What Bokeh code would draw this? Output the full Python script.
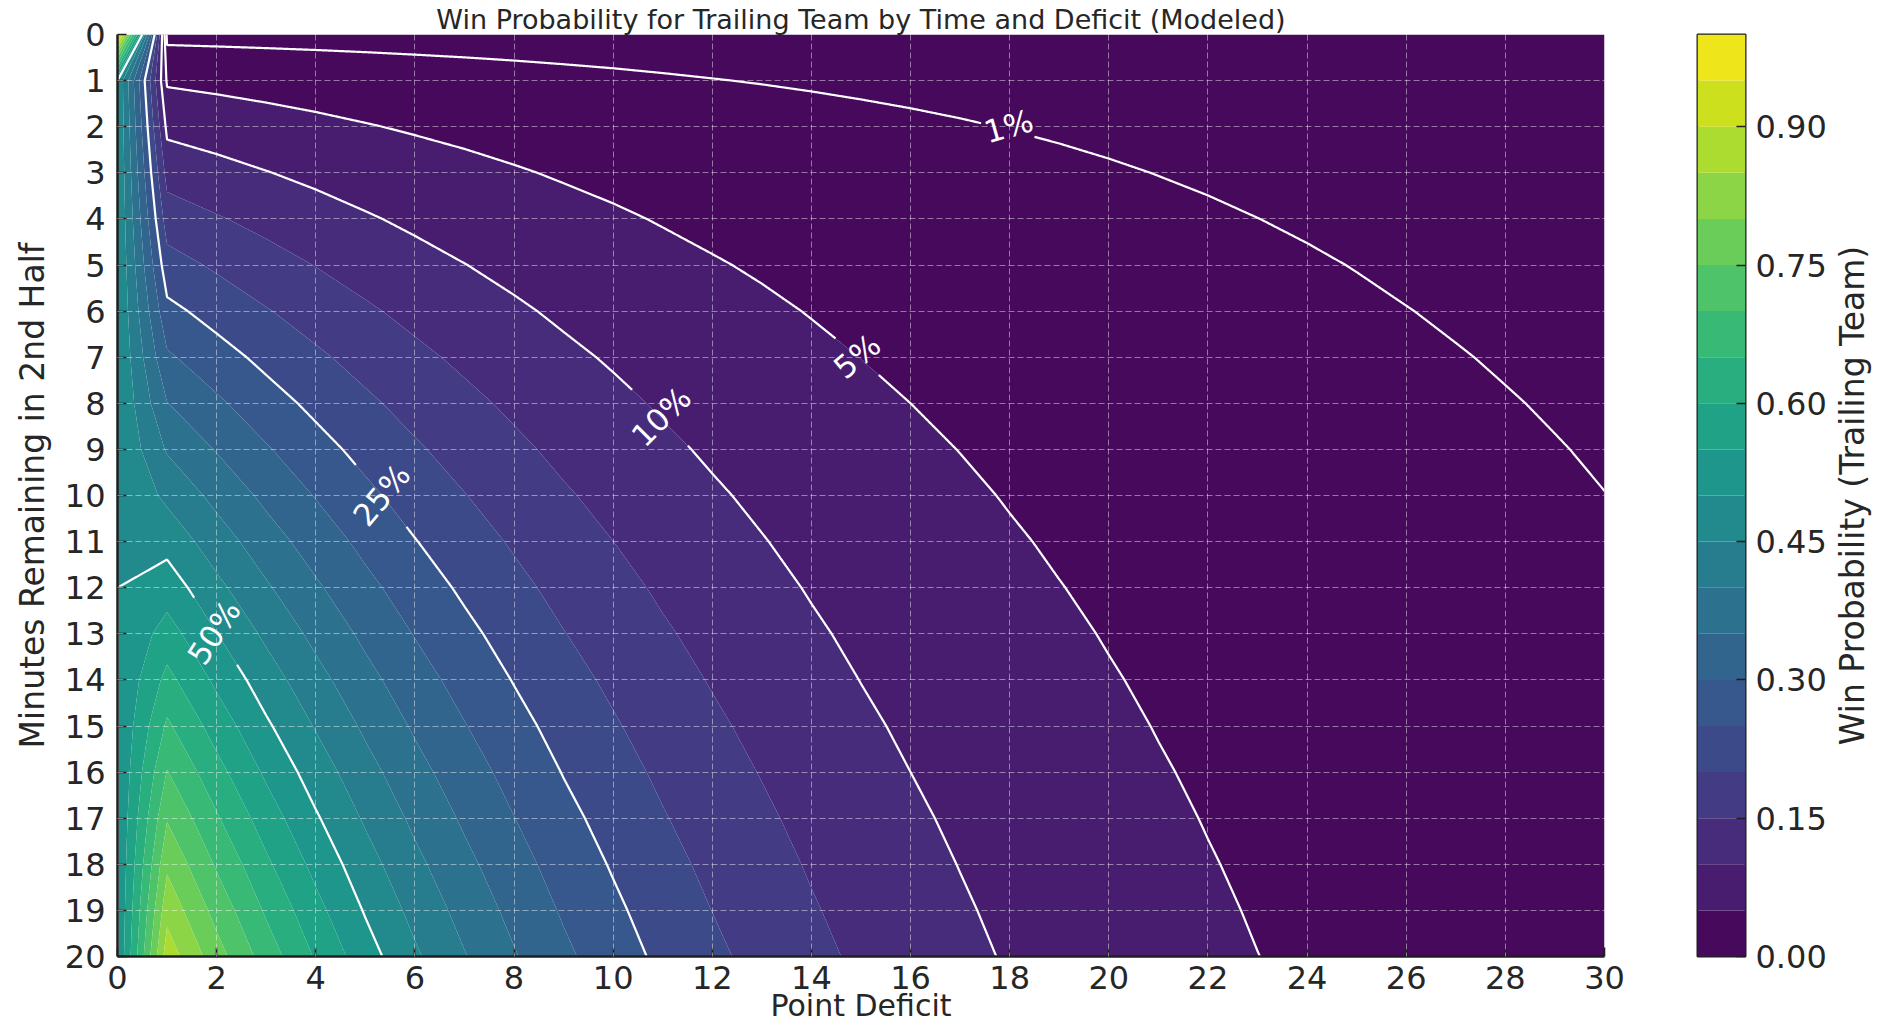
import numpy as np
from contourpy import contour_generator
from bokeh.plotting import figure
from bokeh.layouts import row
from bokeh.models import Range1d, FixedTicker, ColumnDataSource, PrintfTickFormatter, Title
from bokeh.palettes import Viridis256
from bokeh.embed import file_html
from bokeh.resources import INLINE
from bokeh.core.properties import value

# ---------------- data ----------------
deficits = [0, 1, 2, 3, 4, 5, 6, 7, 8, 9, 10, 11, 12, 13, 14, 15, 16, 17, 18, 19, 20,
            21, 22, 23, 24, 25, 26, 27, 28, 29, 30]
minutes = [0, 1, 2, 3, 4, 5, 6, 7, 8, 9, 10, 11, 12, 13, 14, 15, 16, 17, 18, 19, 20]

# win probability of the trailing team with 20 minutes remaining, by point deficit
win_prob_20min = [0.500, 0.878, 0.771, 0.677, 0.595, 0.522, 0.458, 0.403, 0.354, 0.310,
                  0.273, 0.239, 0.210, 0.185, 0.162, 0.142, 0.125, 0.110, 0.0963, 0.0846,
                  0.0743, 0.0652, 0.0573, 0.0503, 0.0442, 0.0388, 0.0340, 0.0299, 0.0263,
                  0.0231, 0.0202]
# share of that probability left at each minute remaining (0..20)
time_share = [0.00, 0.05, 0.10, 0.15, 0.20, 0.25, 0.30, 0.35, 0.40, 0.45, 0.50,
              0.55, 0.60, 0.65, 0.70, 0.75, 0.80, 0.85, 0.90, 0.95, 1.00]
# deficit 0 (tied) column, by minute remaining
tie_prob = [1.00, 0.50, 0.50, 0.50, 0.50, 0.50, 0.50, 0.50, 0.50, 0.50, 0.50,
            0.50, 0.50, 0.50, 0.50, 0.50, 0.50, 0.50, 0.50, 0.50, 0.50]

line_levels = [0.01, 0.05, 0.10, 0.25, 0.50]
line_texts = ["1%", "5%", "10%", "25%", "50%"]
label_x = [17.98, 14.92, 10.97, 5.33, 1.95]
label_y = [1.99, 6.98, 8.29, 9.99, 12.97]
label_angle = [16, 40, 45, 50, 57]

cbar_ticks = [0.00, 0.15, 0.30, 0.45, 0.60, 0.75, 0.90]

# ---------------- table ----------------
z = np.outer(np.array(time_share), np.array(win_prob_20min))
z[:, 0] = np.array(tie_prob)
xg = np.array(deficits, dtype=float)
yg = np.array(minutes, dtype=float)

n_bands = 20
fill_levels = list(np.linspace(0, 1, n_bands + 1))
fill_levels[0] = -1e-6
palette = [Viridis256[min(255, int((i + 0.5) / n_bands * 256))] for i in range(n_bands)]

# ---------------- geometry / style ----------------
TOP = 34
FH = 956 - TOP
FW = 1487
BOT = 1024 - 956
PX_X = FW / 30.0
PX_Y = FH / 20.0
FONT = "DejaVu Sans"
TXT = "#262626"
INK = "#1f1f1f"
TICK_FS = "32px"

p = figure(frame_width=FW, frame_height=FH, x_range=Range1d(0, 30), y_range=Range1d(20, 0),
           output_backend="svg", toolbar_location=None, title=None,
           min_border_left=117, min_border_right=46, min_border_top=TOP, min_border_bottom=BOT,
           border_fill_color="white", outline_line_color=None)
p.add_layout(Title(text="Win Probability for Trailing Team by Time and Deficit (Modeled)",
                   align="center", text_font=FONT, text_font_size="27px",
                   text_font_style="normal", text_color=TXT, standoff=0), "above")

p.contour(xg, yg, z, levels=fill_levels, fill_color=palette, line_color=None)

# contour lines with gaps around the inline labels
gen = contour_generator(x=xg, y=yg, z=z, line_type="Separate")


def densify(pts):
    out = [pts[0]]
    for a, b in zip(pts[:-1], pts[1:]):
        d = np.hypot((b[0] - a[0]) * PX_X, (b[1] - a[1]) * PX_Y)
        n = max(1, int(np.ceil(d / 1.0)))
        t = np.linspace(0, 1, n + 1)[1:]
        out.extend(a + (b - a) * t[:, None])
    return np.array(out)


xs, ys = [], []
for lev, txt, lx, ly in zip(line_levels, line_texts, label_x, label_y):
    r = 0.37 * 32 * len(txt) + 4
    for seg in gen.lines(lev):
        if len(seg) < 2:
            continue
        P = densify(np.asarray(seg))
        keep = np.hypot((P[:, 0] - lx) * PX_X, (P[:, 1] - ly) * PX_Y) > r
        start = None
        for i, k in enumerate(list(keep) + [False]):
            if k and start is None:
                start = i
            elif not k and start is not None:
                if i - start >= 2:
                    xs.append(list(P[start:i, 0]))
                    ys.append(list(P[start:i, 1]))
                start = None

p.multi_line(xs, ys, line_color="white", line_width=2.2)

lab_src = ColumnDataSource(dict(x=label_x, y=label_y, text=line_texts, angle=label_angle))
p.text(x="x", y="y", text="text", angle="angle", angle_units="deg", source=lab_src,
       text_color="white", text_font=value(FONT), text_font_size="31px",
       text_align="center", text_baseline="middle")

# axes
p.xaxis.ticker = FixedTicker(ticks=deficits[::2])
p.yaxis.ticker = FixedTicker(ticks=minutes)
for ax in (p.xaxis[0], p.yaxis[0]):
    ax.axis_line_color = INK
    ax.axis_line_width = 2.5
    ax.major_tick_in = 9
    ax.major_tick_out = 0
    ax.major_tick_line_color = INK
    ax.major_tick_line_width = 1.6
    ax.minor_tick_line_color = None
    ax.major_label_text_font = FONT
    ax.major_label_text_font_size = TICK_FS
    ax.major_label_text_color = TXT
    ax.axis_label_text_font = FONT
    ax.axis_label_text_font_style = "normal"
    ax.axis_label_text_color = TXT
p.xaxis.major_label_standoff = 9
p.yaxis.major_label_standoff = 12
p.xaxis.axis_label = "Point Deficit"
p.xaxis.axis_label_text_font_size = "30px"
p.xaxis.axis_label_standoff = -4
p.yaxis.axis_label = "Minutes Remaining in 2nd Half"
p.yaxis.axis_label_text_font_size = "33px"
p.yaxis.axis_label_standoff = 10

for g in (p.xgrid[0], p.ygrid[0]):
    g.grid_line_color = "white"
    g.grid_line_alpha = 0.45
    g.grid_line_dash = "6 3"
    g.grid_line_width = 1
    g.level = "guide"
p.xgrid.ticker = FixedTicker(ticks=deficits[::2])
p.ygrid.ticker = FixedTicker(ticks=minutes)

# ---------------- colour bar ----------------
cb = figure(frame_width=48, frame_height=FH, x_range=Range1d(0, 1), y_range=Range1d(0, 1),
            output_backend="svg", toolbar_location=None, title=None,
            x_axis_location=None, y_axis_location="right",
            min_border_left=47, min_border_right=82, min_border_top=TOP, min_border_bottom=BOT,
            border_fill_color="white", outline_line_color=INK, outline_line_width=2)
lv = list(np.linspace(0, 1, n_bands + 1))
cb.quad(left=0, right=1, bottom=lv[:-1], top=lv[1:], fill_color=palette, line_color=None)
cb.grid.visible = False
cax = cb.yaxis[0]
cax.ticker = FixedTicker(ticks=cbar_ticks)
cax.formatter = PrintfTickFormatter(format="%.2f")
cax.axis_line_color = None
cax.major_tick_in = 9
cax.major_tick_out = 0
cax.major_tick_line_color = INK
cax.major_tick_line_width = 1.6
cax.minor_tick_line_color = None
cax.major_label_text_font = FONT
cax.major_label_text_font_size = TICK_FS
cax.major_label_text_color = TXT
cax.major_label_standoff = 10

# narrow strip carrying the colour bar's title (reads bottom to top)
cl = figure(frame_width=4, frame_height=FH, x_range=Range1d(0, 1), y_range=Range1d(0, 1),
            output_backend="svg", toolbar_location=None, title=None,
            x_axis_location=None, y_axis_location="left",
            min_border_left=42, min_border_right=0, min_border_top=TOP, min_border_bottom=BOT,
            border_fill_color="white", outline_line_color=None, background_fill_color="white")
cl.grid.visible = False
lax = cl.yaxis[0]
lax.ticker = FixedTicker(ticks=[])
lax.axis_line_color = None
lax.major_tick_in = 0
lax.major_tick_out = 0
lax.minor_tick_line_color = None
lax.major_label_standoff = 0
lax.axis_label = "Win Probability (Trailing Team)"
lax.axis_label_text_font = FONT
lax.axis_label_text_font_size = "33px"
lax.axis_label_text_font_style = "normal"
lax.axis_label_text_color = TXT
lax.axis_label_standoff = 0

layout = row(p, cb, cl)
open("out.html", "w").write(file_html(layout, INLINE))
